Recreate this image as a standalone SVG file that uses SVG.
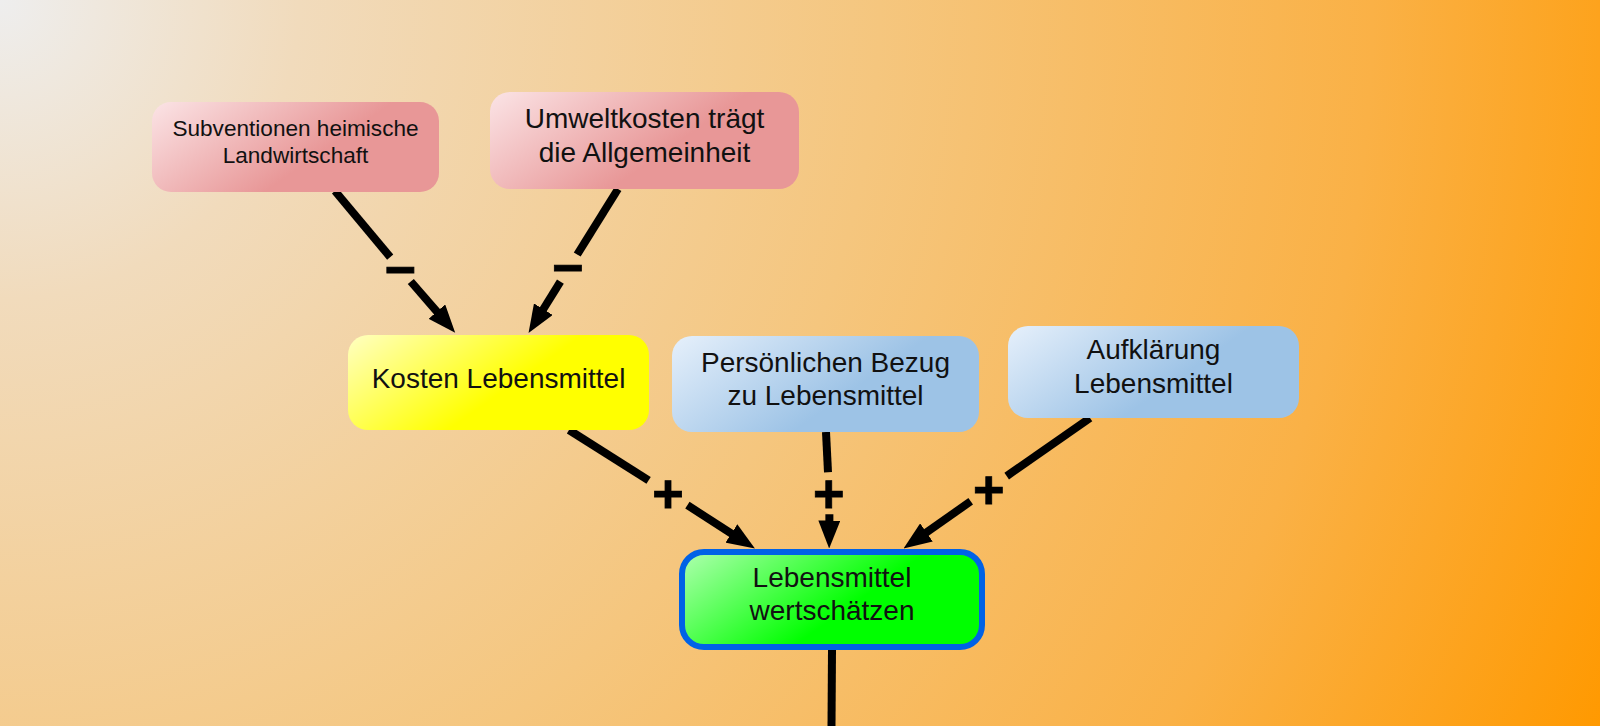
<svg xmlns="http://www.w3.org/2000/svg" width="1600" height="726" viewBox="0 0 1600 726">
  <defs>
    <radialGradient id="bg" gradientUnits="userSpaceOnUse" cx="0" cy="0" r="1760">
      <stop offset="0" stop-color="#eeeeee"/>
      <stop offset="0.17" stop-color="#f1dbbc"/>
      <stop offset="0.5" stop-color="#f5c67e"/>
      <stop offset="0.78" stop-color="#fab146"/>
      <stop offset="1" stop-color="#ff9900"/>
    </radialGradient>
    <linearGradient id="gPink" x1="0" y1="0" x2="1" y2="0.45">
      <stop offset="0" stop-color="#fbe4e6"/>
      <stop offset="0.7" stop-color="#e89797"/>
      <stop offset="1" stop-color="#e89797"/>
    </linearGradient>
    <linearGradient id="gYellow" x1="0" y1="0" x2="1" y2="0.45">
      <stop offset="0" stop-color="#ffffc2"/>
      <stop offset="0.65" stop-color="#ffff00"/>
      <stop offset="1" stop-color="#ffff00"/>
    </linearGradient>
    <linearGradient id="gBlue" x1="0" y1="0" x2="1" y2="0.45">
      <stop offset="0" stop-color="#e6f0fb"/>
      <stop offset="0.7" stop-color="#9dc3e6"/>
      <stop offset="1" stop-color="#9dc3e6"/>
    </linearGradient>
    <linearGradient id="gGreen" x1="0" y1="0" x2="1" y2="0.45">
      <stop offset="0" stop-color="#b0ffb0"/>
      <stop offset="0.68" stop-color="#00ff00"/>
      <stop offset="1" stop-color="#00ff00"/>
    </linearGradient>
    <marker id="arrow" markerUnits="userSpaceOnUse" viewBox="0 0 28 22" markerWidth="28" markerHeight="22" refX="8" refY="11" orient="auto">
      <path d="M0,0 L28,11 L0,22 z" fill="#000"/>
    </marker>
    <style>
      .lbl { font-family: "Liberation Sans", Arial, sans-serif; fill: #111; text-anchor: middle; }
      .big { font-size: 28px; }
      .small { font-size: 22.6px; }
      .edge { stroke: #000; stroke-width: 8; fill: none; }
      .sign { font-family: "Liberation Sans", Arial, sans-serif; font-weight: bold; font-size: 54px; fill: #000; stroke: #000; stroke-width: 0.8; text-anchor: middle; }
    </style>
  </defs>

  <rect x="0" y="0" width="1600" height="726" fill="url(#bg)"/>

  <g id="connectors">
    <!-- Subventionen -> Kosten -->
    <line class="edge" x1="335" y1="191" x2="390.2" y2="257.1"/>
    <line class="edge" x1="410.8" y1="281.5" x2="442.1" y2="317.7" marker-end="url(#arrow)"/>
    <text class="sign" x="400.5" y="288">−</text>
    <!-- Umweltkosten -> Kosten -->
    <line class="edge" x1="618" y1="189" x2="577.2" y2="254.5"/>
    <line class="edge" x1="560.4" y1="281.7" x2="539.1" y2="316" marker-end="url(#arrow)"/>
    <text class="sign" x="568" y="286">−</text>
    <!-- Kosten -> wertschaetzen -->
    <line class="edge" x1="569" y1="430" x2="648.6" y2="480.4"/>
    <line class="edge" x1="687.4" y1="505.2" x2="738.1" y2="537.8" marker-end="url(#arrow)"/>
    <text class="sign" x="668" y="511.8">+</text>
    <!-- Persoenlichen -> wertschaetzen -->
    <line class="edge" x1="826" y1="432" x2="828" y2="472.3"/>
    <line class="edge" x1="829.4" y1="514.3" x2="829.3" y2="528.5" marker-end="url(#arrow)"/>
    <text class="sign" x="828.7" y="512.3">+</text>
    <!-- Aufklaerung -> wertschaetzen -->
    <line class="edge" x1="1090" y1="418" x2="1006.7" y2="476.1"/>
    <line class="edge" x1="970.7" y1="501.3" x2="919.9" y2="537" marker-end="url(#arrow)"/>
    <text class="sign" x="988.7" y="507.7">+</text>
    <!-- wertschaetzen -> down -->
    <line class="edge" x1="832" y1="650" x2="831.5" y2="726"/>
  </g>

  <g id="node-subventionen">
    <rect x="152" y="102" width="287" height="90" rx="19" fill="url(#gPink)"/>
    <text class="lbl small" x="295.5" y="135.7">Subventionen heimische</text>
    <text class="lbl small" x="295.5" y="163.3">Landwirtschaft</text>
  </g>

  <g id="node-umweltkosten">
    <rect x="490" y="92" width="309" height="97" rx="20" fill="url(#gPink)"/>
    <text class="lbl big" x="644.5" y="127.7">Umweltkosten trägt</text>
    <text class="lbl big" x="644.5" y="161.7">die Allgemeinheit</text>
  </g>

  <g id="node-kosten">
    <rect x="348" y="335" width="301" height="95" rx="20" fill="url(#gYellow)"/>
    <text class="lbl big" x="498.5" y="387.7">Kosten Lebensmittel</text>
  </g>

  <g id="node-bezug">
    <rect x="672" y="336" width="307" height="96" rx="20" fill="url(#gBlue)"/>
    <text class="lbl big" x="825.5" y="371.7">Persönlichen Bezug</text>
    <text class="lbl big" x="825.5" y="405">zu Lebensmittel</text>
  </g>

  <g id="node-aufklaerung">
    <rect x="1008" y="326" width="291" height="92" rx="20" fill="url(#gBlue)"/>
    <text class="lbl big" x="1153.5" y="359.3">Aufklärung</text>
    <text class="lbl big" x="1153.5" y="392.7">Lebensmittel</text>
  </g>

  <g id="node-wertschaetzen">
    <rect x="682" y="552" width="300" height="95" rx="22" fill="url(#gGreen)" stroke="#0062e6" stroke-width="6"/>
    <text class="lbl big" x="832" y="586.7">Lebensmittel</text>
    <text class="lbl big" x="832" y="620">wertschätzen</text>
  </g>
</svg>
